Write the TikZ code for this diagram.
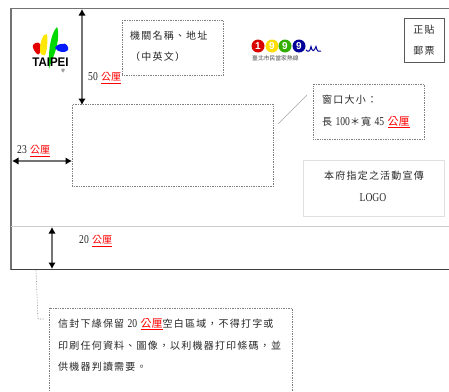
\documentclass[tikz,border=0pt]{standalone}
\usepackage{fontspec}
\setmainfont{Liberation Serif}
\newfontfamily\cjk[LetterSpace=12]{Noto Sans CJK TC}
\newfontfamily\cjkp{Noto Sans CJK TC}
\newfontfamily\lsans{Liberation Sans}
\newfontfamily\ltn[FakeStretch=0.8]{Liberation Serif}
\usetikzlibrary{arrows.meta}
\newcommand{\gl}{{\color{red}\underline{\cjkp 公厘}}}
\newcommand{\gln}{{\color{red}\underline{\fontsize{11}{12}\selectfont\cjkp 公厘}}}
\newcommand{\lt}[1]{{\fontsize{12}{12}\selectfont\ltn #1}}
\tikzset{
  dotbox/.style={draw=black!50,densely dotted,line width=.7pt},
  lbl/.style={anchor=west,inner sep=0pt,font=\fontsize{10}{12}\selectfont\cjk,text=black!85},
  clbl/.style={lbl,anchor=center},
  dim/.style={draw=black!55,line width=1.4pt,{Latex[black,length=6.5pt,width=7.5pt]}-{Latex[black,length=6.5pt,width=7.5pt]}},
  ball/.style={circle,inner sep=0pt,minimum size=13pt,text=white,font=\fontsize{10}{10}\selectfont\lsans\bfseries}
}
\begin{document}
\begin{tikzpicture}[x=1pt,y=-1pt]
\useasboundingbox (0,0) rectangle (449,391);
% envelope
\draw[black!55,line width=1.3pt] (449,8.5) -- (11,8.5) -- (11,269.5);
\draw[black!75,line width=1.2pt] (11,269.5) -- (449,269.5);
\draw[black!20,line width=1pt] (11,226) -- (449,226);
% boxes
\node[dotbox,minimum width=201pt,minimum height=82pt,anchor=north west,inner sep=0pt] (win) at (72,104) {};
\node[dotbox,minimum width=101pt,minimum height=55pt,anchor=north west,inner sep=0pt] (name) at (122,20) {};
\node[draw=black!65,line width=1pt,minimum width=40pt,minimum height=44pt,anchor=north west,inner sep=0pt] (stamp) at (404,18) {};
\node[dotbox,minimum width=111pt,minimum height=55pt,anchor=north west,inner sep=0pt] (size) at (313,84) {};
\node[draw=black!12,line width=.8pt,minimum width=141pt,minimum height=56pt,anchor=north west,inner sep=0pt] (logo) at (303,160) {};
\path[dotbox,draw] (292,391) -- (292,308) -- (49,308) -- (49,391);
% texts
\node[lbl] (t1) at (130,36) {機關名稱、地址};
\node[lbl] (t2) at (130,57) {（中英文）};
\node[clbl] (t3) at (424,29.5) {正貼};
\node[clbl] (t4) at (424,51) {郵票};
\node[lbl] (t5) at (322,100) {窗口大小：};
\node[lbl] (t6) at (322,122) {長 \lt{100}＊寬 \lt{45} \gln};
\node[clbl] (t7) at (374,176) {本府指定之活動宣傳};
\node[clbl] (t8) at (373,198) {\lt{LOGO}};
\node[lbl] (n1) at (58,324) {信封下緣保留 \lt{20} \gln 空白區域，不得打字或};
\node[lbl] (n2) at (58,346) {印刷任何資料、圖像，以利機器打印條碼，並};
\node[lbl] (n3) at (58,367) {供機器判讀需要。};
\node[lbl] (d50) at (88,78) {\lt{50} \gl};
\node[lbl] (d23) at (17,151) {\lt{23} \gl};
\node[lbl] (d20) at (79,241) {\lt{20} \gl};
% dimension arrows
\coordinate (a1) at (82,9); \coordinate (a2) at (82,105);
\coordinate (b1) at (12,161); \coordinate (b2) at (72,161);
\coordinate (c1) at (52,227); \coordinate (c2) at (52,269);
\draw[dim] (a1) -- (a2);
\draw[dim] (b1) -- (b2);
\draw[dim] (c1) -- (c2);
% leaders
\coordinate (l1) at (278,124); \coordinate (l2) at (307,95);
\draw[black!35,line width=.6pt] (l1) -- (l2);
\coordinate (m1) at (36,270); \coordinate (m2) at (38,319); \coordinate (m3) at (44,319);
\draw[black!45,densely dotted,line width=.6pt] (m1) -- (m2) -- (m3);
% Taipei logo
\fill[red!90!black] (33,45) .. controls (36,41) and (41,42) .. (41,47) .. controls (41,52) and (39,56) .. (37,54) .. controls (35,52) and (32,48) .. (33,45) -- cycle;
\fill[yellow!90!orange] (40,50) .. controls (40,42) and (43,33) .. (47,34) .. controls (48,40) and (47,52) .. (45,55) .. controls (42,56) and (40,54) .. (40,50) -- cycle;
\fill[green!85!black] (49,69) .. controls (48,50) and (51,33) .. (57,27) .. controls (60,33) and (57,48) .. (54,55) .. controls (52,60) and (50,65) .. (49,69) -- cycle;
\fill[blue!90!cyan] (55,48) .. controls (57,44) and (61,44) .. (62,44) .. controls (66,42) and (69,47) .. (68,50) .. controls (66,53) and (58,53) .. (55,48) -- cycle;
\node[inner sep=0pt,font=\fontsize{12.5}{13}\selectfont\lsans\bfseries,text=black] (taipei) at (50.5,62.5) {\scalebox{.92}[1]{TAIPEI}};
\node[inner sep=0pt,font=\fontsize{4}{5}\selectfont\cjkp,text=black!70] (tp2) at (63,71) {零};
% 1999 logo
\node[ball,fill=red!85!black] (n1a) at (258,46) {1};
\node[ball,fill=yellow!80!orange] (n1b) at (272,46) {9};
\node[ball,fill=green!60!black!80!yellow] (n1c) at (285,46) {9};
\node[ball,fill=blue!60!black] (n1d) at (299,46) {9};
\coordinate (w0) at (306,50);
\draw[blue!60!black,line width=1pt] (w0) .. controls (308,52) and (310,52) .. (311,46.5) .. controls (312,52) and (314,52) .. (316,46.5) .. controls (317,52) and (319,52) .. (321,51);
\node[anchor=west,inner sep=0pt,font=\fontsize{5.8}{6}\selectfont\cjkp,text=black!70] (hot) at (252,58) {臺北市民當家熱線};
\end{tikzpicture}
\end{document}
